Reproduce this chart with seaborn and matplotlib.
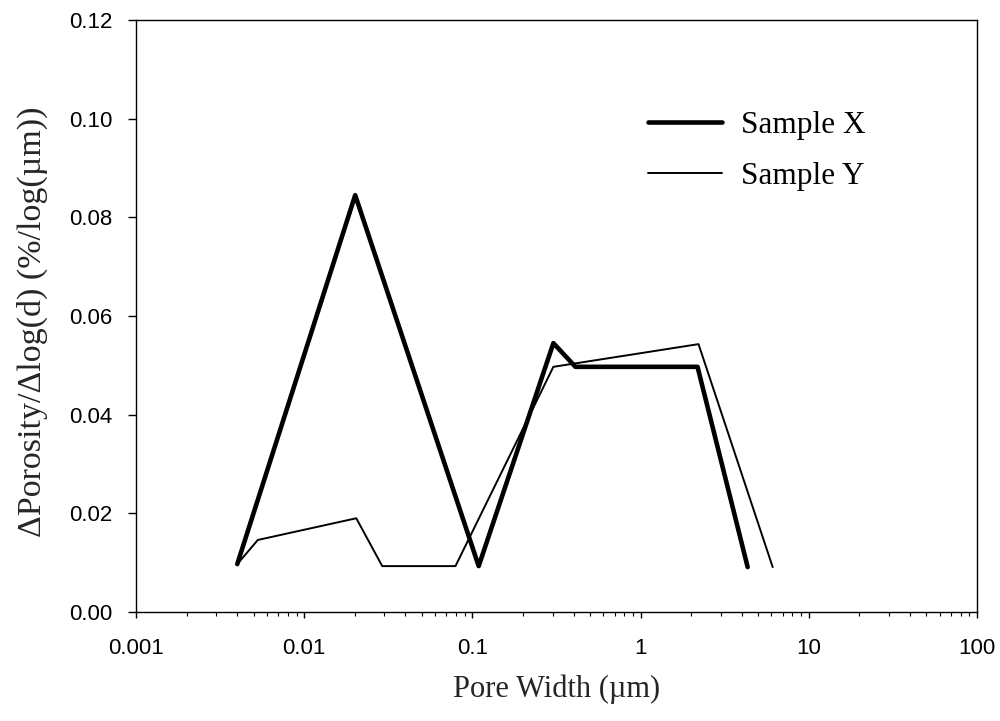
import matplotlib
matplotlib.use("Agg")
import matplotlib.pyplot as plt
import seaborn as sns
import pandas as pd
from matplotlib.ticker import LogLocator, FixedLocator, NullFormatter, FixedFormatter

# Data
x_sample_x = [0.004, 0.0201, 0.109, 0.303, 0.41, 2.18, 4.33]
y_sample_x = [0.0097, 0.0845, 0.0093, 0.0545, 0.0497, 0.0497, 0.0091]
x_sample_y = [0.004, 0.0053, 0.0204, 0.0291, 0.0793, 0.303, 2.21, 6.1]
y_sample_y = [0.0097, 0.0146, 0.0190, 0.0093, 0.0093, 0.0497, 0.0543, 0.0091]
x_ticks = [0.001, 0.01, 0.1, 1, 10, 100]
x_tick_labels = ["0.001", "0.01", "0.1", "1", "10", "100"]
y_ticks = [0.00, 0.02, 0.04, 0.06, 0.08, 0.10, 0.12]
series_names = ["Sample X", "Sample Y"]

sns.set_theme(style="ticks")
plt.rcParams['font.family'] = ['Liberation Sans', 'DejaVu Sans']

df_x = pd.DataFrame({"w": x_sample_x, "v": y_sample_x})
df_y = pd.DataFrame({"w": x_sample_y, "v": y_sample_y})

fig = plt.figure(figsize=(10, 7.21), dpi=100)
ax = fig.add_axes([0.136, 0.1512, 0.841, 0.821])

sns.lineplot(data=df_x, x="w", y="v", sort=False, estimator=None, color="black",
             linewidth=3.3, ax=ax, label=series_names[0])
sns.lineplot(data=df_y, x="w", y="v", sort=False, estimator=None, color="black",
             linewidth=1.4, ax=ax, label=series_names[1])

ax.set_xscale("log")
ax.set_xlim(0.001, 100)
ax.set_ylim(0, 0.12)
ax.xaxis.set_major_locator(FixedLocator(x_ticks))
ax.xaxis.set_major_formatter(FixedFormatter(x_tick_labels))
ax.xaxis.set_minor_locator(LogLocator(base=10, subs=range(2, 10), numticks=20))
ax.xaxis.set_minor_formatter(NullFormatter())
ax.set_yticks(y_ticks)
ax.set_yticklabels([f"{v:.2f}" for v in y_ticks])

for s in ax.spines.values():
    s.set_color("black")
    s.set_linewidth(1.0)
ax.tick_params(axis="both", which="major", direction="out", width=1,
               colors="black", labelsize=16)
ax.tick_params(axis="y", which="major", length=5.8, pad=11)
ax.tick_params(axis="x", which="major", length=4, pad=15)
ax.tick_params(axis="x", which="minor", direction="out", length=3, width=0.8, colors="black")

serif = ['Liberation Serif', 'DejaVu Serif']
ax.set_xlabel("Pore Width (\u00b5m)", fontsize=22, family=serif)
ax.xaxis.label.set_va("center")
ax.xaxis.set_label_coords(0.5, (612 - 689) / 592)
ax.set_ylabel("\u0394Porosity/\u0394log(d) (%/log(\u00b5m))", fontsize=24.5, family=serif)
ax.yaxis.label.set_va("center")
ax.yaxis.set_label_coords((32 - 136) / 841, (612 - 322) / 592)

leg = ax.legend(loc="upper left", bbox_to_anchor=((648 - 136) / 841, (612 - 111) / 592),
                frameon=False, borderpad=0, borderaxespad=0,
                handlelength=2.37, handletextpad=0.6, labelspacing=0.69,
                prop={'family': serif, 'size': 22.5})
for t in leg.get_texts():
    t.set_color("black")

fig.savefig("out.png", dpi=100)
